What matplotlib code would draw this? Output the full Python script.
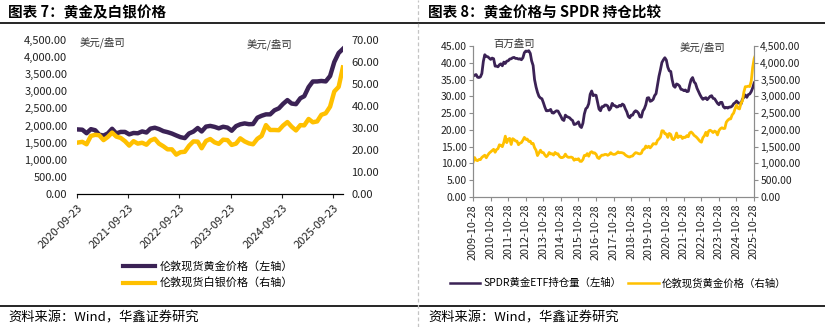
import matplotlib.pyplot as plt
import matplotlib.dates as mdates
import pandas as pd
from matplotlib.lines import Line2D
from matplotlib.ticker import FuncFormatter

plt.rcParams['font.family'] = ['Noto Sans CJK SC', 'DejaVu Sans']

PURPLE = '#3b2255'
YELLOW = '#ffc000'
GREY = '#8c8c8c'

# London spot gold, USD/oz, month end 2009-10 .. 2025-11
gold = [
    1040, 1176, 1097,
    1083, 1118, 1114, 1179, 1215, 1245, 1169, 1247, 1307, 1346, 1386, 1421,
    1333, 1410, 1439, 1556, 1536, 1500, 1628, 1813, 1620, 1722, 1746, 1565,
    1738, 1711, 1668, 1664, 1558, 1604, 1622, 1692, 1776, 1719, 1726, 1657,
    1664, 1588, 1598, 1469, 1394, 1234, 1314, 1395, 1327, 1323, 1253, 1202,
    1244, 1326, 1284, 1289, 1250, 1327, 1282, 1287, 1210, 1173, 1175, 1200,
    1278, 1213, 1183, 1183, 1190, 1172, 1095, 1132, 1115, 1142, 1065, 1061,
    1116, 1238, 1233, 1293, 1215, 1321, 1350, 1309, 1316, 1275, 1173, 1146,
    1211, 1248, 1248, 1268, 1268, 1242, 1269, 1322, 1283, 1270, 1275, 1303,
    1345, 1318, 1325, 1316, 1299, 1253, 1224, 1201, 1192, 1215, 1222, 1282,
    1321, 1313, 1292, 1284, 1305, 1409, 1427, 1520, 1472, 1513, 1464, 1517,
    1589, 1585, 1577, 1687, 1730, 1781, 1975, 1967, 1886, 1879, 1776, 1895,
    1863, 1734, 1708, 1768, 1906, 1770, 1814, 1814, 1743, 1783, 1775, 1829,
    1797, 1909, 1937, 1897, 1837, 1807, 1766, 1711, 1661, 1633, 1768, 1824,
    1928, 1827, 1969, 1990, 1962, 1919, 1965, 1940, 1849, 1983, 2036, 2063,
    2040, 2044, 2230, 2286, 2327, 2327, 2447, 2503, 2634, 2744, 2643, 2625,
    2798, 2858, 3124, 3288, 3289, 3303, 3290, 3448, 3858, 4120, 4239,
]

# SPDR Gold Trust holdings, million oz, month end 2009-10 .. 2025-10
spdr = [
    36.0, 36.3, 36.5,
    35.7, 35.6, 35.8, 36.8, 40.4, 42.4, 41.9, 41.8, 41.4, 41.0, 41.4, 41.2,
    39.0, 39.0, 38.8, 39.4, 39.7, 39.1, 40.2, 39.8, 40.5, 40.6, 41.1, 41.2,
    41.5, 41.6, 41.3, 41.3, 41.1, 41.2, 40.9, 41.5, 43.0, 43.5, 43.4, 43.6,
    42.8, 40.6, 39.2, 35.0, 32.8, 31.2, 30.0, 29.5, 29.3, 28.1, 26.8, 25.7,
    25.7, 25.8, 26.1, 25.1, 25.0, 25.4, 25.7, 25.6, 24.8, 24.0, 23.1, 22.8,
    24.4, 24.0, 23.8, 23.6, 23.1, 22.8, 21.6, 21.7, 22.0, 22.4, 21.1, 20.7,
    22.0, 24.7, 26.3, 26.7, 27.8, 30.6, 31.6, 30.2, 30.4, 30.3, 28.3, 26.2,
    25.7, 26.9, 26.9, 27.4, 27.4, 27.1, 25.9, 26.5, 27.9, 27.3, 27.2, 26.8,
    26.9, 27.3, 27.1, 27.7, 27.4, 26.3, 25.4, 24.0, 23.6, 24.4, 24.4, 25.3,
    25.7, 25.5, 25.0, 23.9, 23.8, 25.6, 26.3, 27.5, 29.5, 29.6, 28.5, 28.7,
    29.1, 30.2, 30.8, 33.4, 36.0, 37.9, 40.1, 40.9, 41.5, 40.8, 38.7, 37.6,
    37.4, 35.0, 33.1, 32.7, 33.7, 33.5, 33.1, 32.1, 32.0, 31.7, 31.9, 31.4,
    31.5, 33.4, 35.0, 35.6, 34.3, 33.8, 32.4, 31.4, 30.5, 29.7, 29.1, 29.4,
    29.6, 29.0, 29.5, 30.0, 30.2, 29.4, 29.3, 28.6, 27.9, 27.5, 28.2, 28.2,
    26.9, 26.5, 26.7, 26.5, 26.8, 26.8, 27.1, 27.8, 28.1, 28.6, 28.0, 28.0,
    27.7, 29.1, 29.7, 30.4, 29.7, 30.5, 30.7, 31.4, 32.5, 34.0,
]

# London spot silver, USD/oz, month end 2020-09 .. 2025-11
silver = [
    23.4, 23.7, 22.6, 26.4,
    26.9, 26.7, 24.5, 25.9, 27.9, 26.1, 25.5, 24.0, 22.0, 24.0, 22.9, 23.3,
    22.4, 24.3, 25.1, 22.9, 21.7, 20.3, 20.3, 17.9, 19.0, 19.2, 21.9, 23.9,
    23.8, 20.8, 24.1, 25.0, 23.5, 22.8, 24.7, 24.5, 22.3, 22.9, 25.3, 23.9,
    23.0, 22.6, 25.1, 26.4, 31.3, 29.1, 29.1, 29.0, 31.1, 32.7, 30.6, 28.9,
    31.3, 31.2, 34.1, 32.6, 33.0, 36.0, 36.7, 39.7, 46.6, 48.7, 57.5,
]

gold_dates = pd.date_range('2009-10-31', periods=len(gold), freq='ME')
spdr_dates = gold_dates[:len(spdr)]
silver_dates = gold_dates[-len(silver):]

left_ticks = pd.to_datetime([f'{y}-09-23' for y in range(2020, 2026)])
right_ticks = pd.to_datetime([f'{y}-10-28' for y in range(2009, 2026)])

money = FuncFormatter(lambda v, p: f'{v:,.2f}')

fig = plt.figure(figsize=(8.25, 3.27), dpi=100)
W, H = 825, 327


def box(x0, y0, x1, y1):
    return [x0 / W, 1 - y1 / H, (x1 - x0) / W, (y1 - y0) / H]


# frame: rules and separator
for y in (23, 306):
    fig.add_artist(Line2D([0, 1], [1 - y / H] * 2, color='black', lw=1.2))
fig.add_artist(Line2D([418 / W] * 2, [0, 1], color='#c4c4c4', lw=0.9, ls=(0, (3, 2))))

fig.text(8 / W, 1 - 12 / H, '图表 7：黄金及白银价格', fontsize=10.5, fontweight='bold', va='center')
fig.text(428 / W, 1 - 12 / H, '图表 8：黄金价格与 SPDR 持仓比较', fontsize=10.5, fontweight='bold', va='center')
for x in (8, 428):
    fig.text(x / W, 1 - 318 / H, '资料来源：Wind，华鑫证券研究', fontsize=9.5, va='center')

# ---- left: gold & silver
ax1 = fig.add_axes(box(77, 40, 343, 194))
ax1.plot(silver_dates, gold[-len(silver):], color=PURPLE, lw=3.2)
ax1b = ax1.twinx()
ax1b.plot(silver_dates, silver, color=YELLOW, lw=3.2)
ax1.set_ylim(0, 4500)
ax1.set_yticks(range(0, 4501, 500))
ax1.yaxis.set_major_formatter(money)
ax1b.set_ylim(0, 70)
ax1b.set_yticks(range(0, 71, 10))
ax1b.yaxis.set_major_formatter(money)
ax1.set_xlim(pd.Timestamp('2020-09-23'), pd.Timestamp('2025-12-01'))
ax1.set_xticks(left_ticks)
ax1.xaxis.set_major_formatter(mdates.DateFormatter('%Y-%m-%d'))
for a in (ax1, ax1b):
    for s in ('top', 'left', 'right'):
        a.spines[s].set_visible(False)
    a.spines['bottom'].set_color('black')
ax1.tick_params(axis='y', length=0, pad=7, labelsize=8, colors='#222222')
ax1b.tick_params(axis='y', length=0, pad=6, labelsize=8, colors='#222222')
ax1.tick_params(axis='x', length=3, direction='out', labelsize=8, colors='#222222')
for lbl in ax1.get_xticklabels():
    lbl.set_rotation(45)
    lbl.set_ha('right')
    lbl.set_rotation_mode('anchor')

fig.text(80 / W, 1 - 42 / H, '美元/盎司', fontsize=7.5, va='center', color='#333333')
fig.text(247 / W, 1 - 44 / H, '美元/盎司', fontsize=7.5, va='center', color='#333333')

fig.legend(
    [Line2D([], [], color=PURPLE, lw=3), Line2D([], [], color=YELLOW, lw=3)],
    ['伦敦现货黄金价格（左轴）', '伦敦现货白银价格（右轴）'],
    loc='center', bbox_to_anchor=(208 / W, 1 - 275 / H), frameon=False,
    fontsize=8, handlelength=2.9, handletextpad=0.4, labelspacing=0.55,
)

# ---- right: SPDR holdings vs gold
ax2 = fig.add_axes(box(473, 46, 754, 197))
ax2.plot(spdr_dates, spdr, color=PURPLE, lw=2)
ax2b = ax2.twinx()
ax2b.plot(gold_dates, gold, color=YELLOW, lw=2)
ax2.set_ylim(0, 45)
ax2.set_yticks(range(0, 46, 5))
ax2.yaxis.set_major_formatter(money)
ax2b.set_ylim(0, 4500)
ax2b.set_yticks(range(0, 4501, 500))
ax2b.yaxis.set_major_formatter(money)
ax2.set_xlim(right_ticks[0], right_ticks[-1])
ax2.set_xticks(right_ticks)
ax2.xaxis.set_major_formatter(mdates.DateFormatter('%Y-%m-%d'))
for a in (ax2, ax2b):
    a.spines['top'].set_visible(False)
    for s in ('left', 'right', 'bottom'):
        a.spines[s].set_color(GREY)
        a.spines[s].set_linewidth(0.8)
ax2.tick_params(axis='y', length=3, width=0.8, color=GREY, pad=1.5, labelsize=7.5, labelcolor='#222222')
ax2b.tick_params(axis='y', length=3, width=0.8, color=GREY, pad=1.5, labelsize=7.5, labelcolor='#222222')
ax2.tick_params(axis='x', length=3, width=0.8, color=GREY, pad=2, labelsize=7.8, labelcolor='#222222')
for lbl in ax2.get_xticklabels():
    lbl.set_rotation(90)

fig.text(493 / W, 1 - 44 / H, '百万盎司', fontsize=7.5, va='center', color='#333333')
fig.text(680 / W, 1 - 47 / H, '美元/盎司', fontsize=7.5, va='center', color='#333333')

fig.legend(
    [Line2D([], [], color=PURPLE, lw=1.8), Line2D([], [], color=YELLOW, lw=1.8)],
    ['SPDR黄金ETF持仓量（左轴）', '伦敦现货黄金价格（右轴）'],
    loc='center', bbox_to_anchor=(618 / W, 1 - 283 / H), frameon=False, ncol=2,
    fontsize=7.5, handlelength=2.9, handletextpad=0.3, columnspacing=0.7,
)

fig.savefig('out.png', dpi=100)
